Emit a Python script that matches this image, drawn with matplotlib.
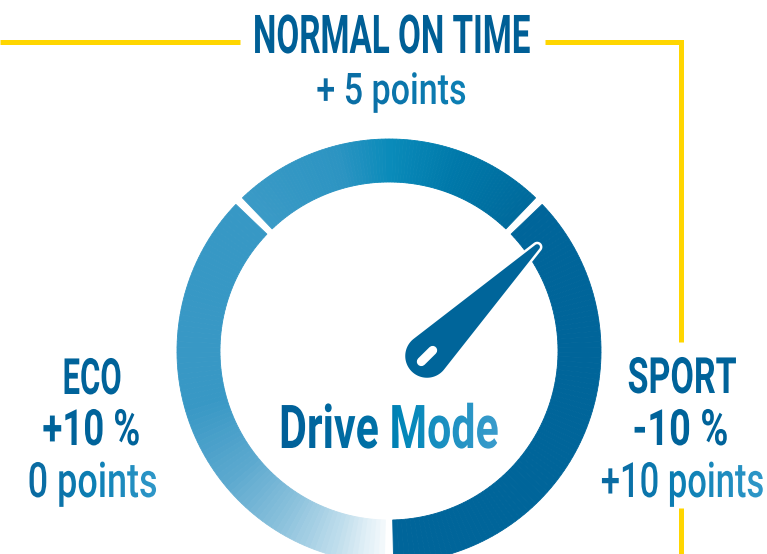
import numpy as np
import matplotlib
matplotlib.use('Agg')
import matplotlib.pyplot as plt
import matplotlib.patheffects as pe
from matplotlib.patches import Wedge, Polygon
from matplotlib.colors import LinearSegmentedColormap
from matplotlib.transforms import Affine2D, Bbox

W, H = 767, 554

# gauge segments, listed clockwise starting from the bottom of the dial
mode_names = ['ECO', 'NORMAL ON TIME', 'SPORT']
fuel_change = ['+10 %', '', '-10 %']
bonus_points = ['0 points', '+ 5 points', '+10 points']
segment_span = [135, 90, 135]      # degrees of arc per mode
needle_angle = 44.7                # degrees, needle points into SPORT
title = 'Drive Mode'

DARK = '#00639a'
YELLOW = '#ffd600'

# colour stops along each segment (fraction from the clockwise start)
seg_colors = [
    [(0.0, '#f4f9fc'), (0.11, '#bcdceb'), (0.22, '#8ec3dd'), (0.37, '#5da9cf'),
     (0.55, '#3898c5'), (1.0, '#3798c5')],
    [(0.0, '#3a9ac6'), (0.33, '#2c94c2'), (0.5, '#0a8bba'), (0.72, '#0079aa'),
     (1.0, '#006a9c')],
    [(0.0, '#00659a'), (1.0, '#00659a')],
]
points_grad = ['#0a69a0', '#0c7fb4', '#2f97c8']
title_grad = [(0.0, '#005f98'), (0.45, '#0071a7'), (0.55, '#0086b8'), (1.0, '#3a9bcb')]


class Squeeze(pe.AbstractPathEffect):
    """Narrow the glyphs horizontally around the text centre,
    optionally painting them with a left-to-right gradient."""

    def __init__(self, sx, colors=None):
        super().__init__()
        self.sx = sx
        self.cmap = None
        if colors is not None:
            self.cmap = LinearSegmentedColormap.from_list('txt', colors)

    def draw_path(self, renderer, gc, tpath, affine, rgbFace=None):
        ext = tpath.get_extents(affine)
        cx = (ext.x0 + ext.x1) / 2
        aff = affine + Affine2D().translate(-cx, 0).scale(self.sx, 1).translate(cx, 0)
        if self.cmap is None:
            renderer.draw_path(gc, tpath, aff, rgbFace)
            return
        x0 = cx - ext.width * self.sx / 2
        x1 = cx + ext.width * self.sx / 2
        edges = np.arange(np.floor(x0) - 1, np.ceil(x1) + 4, 3)
        for l, r in zip(edges[:-1], edges[1:]):
            gc2 = renderer.new_gc()
            gc2.copy_properties(gc)
            gc2.set_clip_rectangle(Bbox.from_extents(l, ext.y0 - 5, r, ext.y1 + 5))
            frac = np.clip(((l + r) / 2 - x0) / (x1 - x0), 0, 1)
            renderer.draw_path(gc2, tpath, aff, self.cmap(frac))
            gc2.restore()


fig = plt.figure(figsize=(W / 100, H / 100), dpi=100)
ax = fig.add_axes([0, 0, 1, 1])
ax.set_xlim(0, W)
ax.set_ylim(0, H)
ax.axis('off')

# yellow frame line
lw_y = 3.6
ax.plot([0, 240], [512, 512], color=YELLOW, lw=lw_y, solid_capstyle='butt')
ax.plot([545, 681, 681], [512, 512, 212], color=YELLOW, lw=lw_y,
        solid_capstyle='butt', solid_joinstyle='miter')
ax.plot([681, 681], [46, 0], color=YELLOW, lw=lw_y, solid_capstyle='butt')

# dial ring
cx, cy = 389, 203
r_out, r_in = 212, 169
gap = 2.5
start = 270.0
for span, stops in zip(segment_span, seg_colors):
    cmap = LinearSegmentedColormap.from_list('seg', stops)
    a_hi = start - gap / 2
    a_lo = start - span + gap / 2
    edges = np.linspace(a_lo, a_hi, 91)
    for t1, t2 in zip(edges[:-1], edges[1:]):
        frac = (a_hi - (t1 + t2) / 2) / (a_hi - a_lo)
        c = cmap(frac)
        ax.add_patch(Wedge((cx, cy), r_out, t1, t2, width=r_out - r_in,
                           fc=c, ec=c, lw=0.6))
    start -= span

# needle
px, py = 427, 198
length, r_base, r_tip = 155, 23, 4
a = np.radians(needle_angle)
tx, ty = px + length * np.cos(a), py + length * np.sin(a)
b = np.arccos((r_base - r_tip) / length)
back = np.linspace(a + b, a + 2 * np.pi - b, 80)
front = np.linspace(a - b, a + b, 20)
pts = np.vstack([
    np.column_stack([px + r_base * np.cos(back), py + r_base * np.sin(back)]),
    np.column_stack([tx + r_tip * np.cos(front), ty + r_tip * np.sin(front)]),
])
ax.add_patch(Polygon(pts, closed=True, fc='#00659a', ec='white', lw=1.8, zorder=3))
ux, uy = np.cos(a), np.sin(a)
ax.plot([px - 8 * ux, px + 8 * ux], [py - 8 * uy, py + 8 * uy], color='white',
        lw=6.5, solid_capstyle='round', zorder=4)


def label(x, y, s, size, color, weight, sx, grad=None):
    t = ax.text(x, y, s, fontsize=size, color=color, fontweight=weight,
                family=['Roboto', 'DejaVu Sans'], ha='center', va='baseline',
                path_effects=[Squeeze(sx, grad)], zorder=5)
    # report the narrowed box so layout checks see the real footprint
    orig = t.get_window_extent

    def get_window_extent(renderer=None, dpi=None):
        bb = orig(renderer, dpi)
        c, hw = (bb.x0 + bb.x1) / 2, bb.width * sx / 2
        return Bbox.from_extents(c - hw, bb.y0, c + hw, bb.y1)

    t.get_window_extent = get_window_extent
    return t


# mode captions
label(391.5, 501, mode_names[1], 38.5, '#005f96', 'bold', 0.62)
label(391.5, 450, bonus_points[1], 31.4, '#0a74a9', 'medium', 0.78, points_grad[:2])

label(92, 160, mode_names[0], 36, DARK, 'bold', 0.62)
label(91.5, 109, fuel_change[0], 36, DARK, 'bold', 0.73)
label(92.5, 57, bonus_points[0], 35, '#0a74a9', 'medium', 0.74, points_grad)

label(682, 161, mode_names[2], 36, DARK, 'bold', 0.68)
label(680.5, 109, fuel_change[2], 36, DARK, 'bold', 0.76)
label(682.5, 57, bonus_points[2], 35, '#0a74a9', 'medium', 0.71, points_grad)

# centre title
label(388.5, 106, title, 43.5, '#0071a7', 'bold', 0.71, title_grad)

fig.savefig('out.png', dpi=100)
